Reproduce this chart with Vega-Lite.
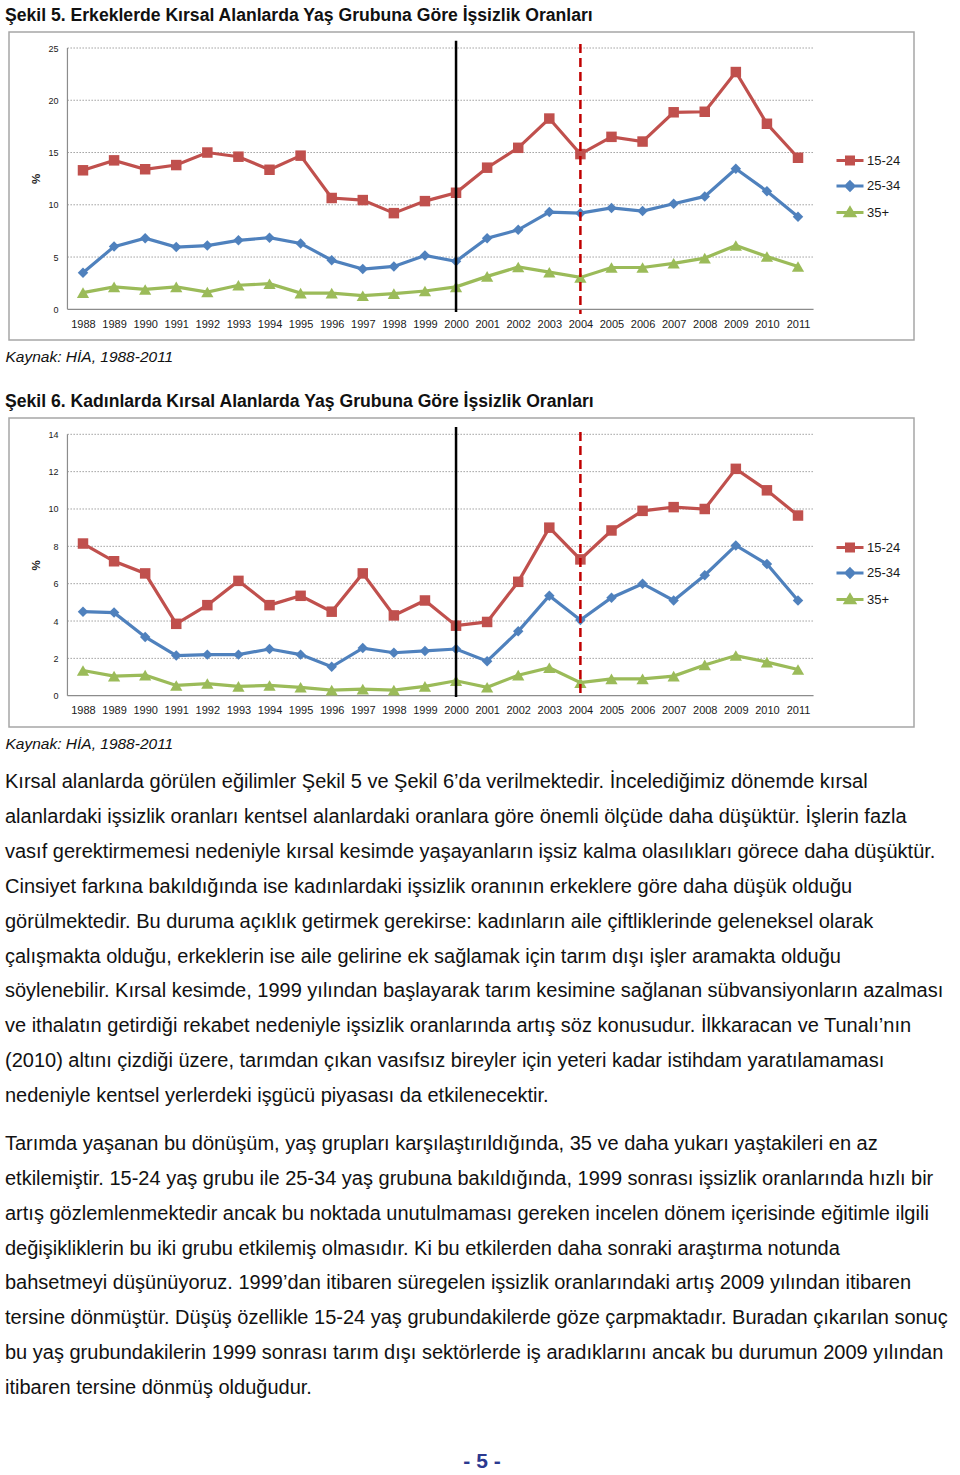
{
  "$schema": "https://vega.github.io/schema/vega-lite/v6.json",
  "background": "white",
  "padding": {"left": 4, "top": 5, "right": 0, "bottom": 0},
  "config": {
    "font": "Liberation Sans",
    "view": {"stroke": "#a6a6a6", "strokeWidth": 1.5},
    "axis": {"labelFont": "Liberation Sans", "titleFont": "Liberation Sans", "labelOverlap": false, "labelFlush": false, "labelBound": false},
    "legend": {"labelFont": "Liberation Sans"},
    "title": {"font": "Liberation Sans"}
  },
  "datasets": {
    "fig5": [
      {"year":1988,"group":"15-24","v":13.3},{"year":1989,"group":"15-24","v":14.25},{"year":1990,"group":"15-24","v":13.4},{"year":1991,"group":"15-24","v":13.8},{"year":1992,"group":"15-24","v":15.0},{"year":1993,"group":"15-24","v":14.6},{"year":1994,"group":"15-24","v":13.35},{"year":1995,"group":"15-24","v":14.7},{"year":1996,"group":"15-24","v":10.65},{"year":1997,"group":"15-24","v":10.45},{"year":1998,"group":"15-24","v":9.2},{"year":1999,"group":"15-24","v":10.35},{"year":2000,"group":"15-24","v":11.15},{"year":2001,"group":"15-24","v":13.55},{"year":2002,"group":"15-24","v":15.45},{"year":2003,"group":"15-24","v":18.25},{"year":2004,"group":"15-24","v":14.85},{"year":2005,"group":"15-24","v":16.5},{"year":2006,"group":"15-24","v":16.05},{"year":2007,"group":"15-24","v":18.85},{"year":2008,"group":"15-24","v":18.9},{"year":2009,"group":"15-24","v":22.7},{"year":2010,"group":"15-24","v":17.75},{"year":2011,"group":"15-24","v":14.5},
      {"year":1988,"group":"25-34","v":3.5},{"year":1989,"group":"25-34","v":6.0},{"year":1990,"group":"25-34","v":6.8},{"year":1991,"group":"25-34","v":5.95},{"year":1992,"group":"25-34","v":6.1},{"year":1993,"group":"25-34","v":6.6},{"year":1994,"group":"25-34","v":6.85},{"year":1995,"group":"25-34","v":6.3},{"year":1996,"group":"25-34","v":4.7},{"year":1997,"group":"25-34","v":3.85},{"year":1998,"group":"25-34","v":4.1},{"year":1999,"group":"25-34","v":5.15},{"year":2000,"group":"25-34","v":4.6},{"year":2001,"group":"25-34","v":6.8},{"year":2002,"group":"25-34","v":7.6},{"year":2003,"group":"25-34","v":9.3},{"year":2004,"group":"25-34","v":9.2},{"year":2005,"group":"25-34","v":9.7},{"year":2006,"group":"25-34","v":9.4},{"year":2007,"group":"25-34","v":10.1},{"year":2008,"group":"25-34","v":10.8},{"year":2009,"group":"25-34","v":13.45},{"year":2010,"group":"25-34","v":11.3},{"year":2011,"group":"25-34","v":8.85},
      {"year":1988,"group":"35+","v":1.6},{"year":1989,"group":"35+","v":2.15},{"year":1990,"group":"35+","v":1.9},{"year":1991,"group":"35+","v":2.15},{"year":1992,"group":"35+","v":1.65},{"year":1993,"group":"35+","v":2.3},{"year":1994,"group":"35+","v":2.45},{"year":1995,"group":"35+","v":1.55},{"year":1996,"group":"35+","v":1.55},{"year":1997,"group":"35+","v":1.3},{"year":1998,"group":"35+","v":1.5},{"year":1999,"group":"35+","v":1.75},{"year":2000,"group":"35+","v":2.15},{"year":2001,"group":"35+","v":3.15},{"year":2002,"group":"35+","v":4.05},{"year":2003,"group":"35+","v":3.55},{"year":2004,"group":"35+","v":3.05},{"year":2005,"group":"35+","v":4.0},{"year":2006,"group":"35+","v":4.0},{"year":2007,"group":"35+","v":4.4},{"year":2008,"group":"35+","v":4.9},{"year":2009,"group":"35+","v":6.1},{"year":2010,"group":"35+","v":5.05},{"year":2011,"group":"35+","v":4.1}
    ],
    "fig6": [
      {"year":1988,"group":"15-24","v":8.15},{"year":1989,"group":"15-24","v":7.2},{"year":1990,"group":"15-24","v":6.55},{"year":1991,"group":"15-24","v":3.85},{"year":1992,"group":"15-24","v":4.85},{"year":1993,"group":"15-24","v":6.15},{"year":1994,"group":"15-24","v":4.85},{"year":1995,"group":"15-24","v":5.35},{"year":1996,"group":"15-24","v":4.5},{"year":1997,"group":"15-24","v":6.55},{"year":1998,"group":"15-24","v":4.3},{"year":1999,"group":"15-24","v":5.1},{"year":2000,"group":"15-24","v":3.75},{"year":2001,"group":"15-24","v":3.95},{"year":2002,"group":"15-24","v":6.1},{"year":2003,"group":"15-24","v":9.0},{"year":2004,"group":"15-24","v":7.3},{"year":2005,"group":"15-24","v":8.85},{"year":2006,"group":"15-24","v":9.9},{"year":2007,"group":"15-24","v":10.1},{"year":2008,"group":"15-24","v":10.0},{"year":2009,"group":"15-24","v":12.15},{"year":2010,"group":"15-24","v":11.0},{"year":2011,"group":"15-24","v":9.65},
      {"year":1988,"group":"25-34","v":4.5},{"year":1989,"group":"25-34","v":4.45},{"year":1990,"group":"25-34","v":3.15},{"year":1991,"group":"25-34","v":2.15},{"year":1992,"group":"25-34","v":2.2},{"year":1993,"group":"25-34","v":2.2},{"year":1994,"group":"25-34","v":2.5},{"year":1995,"group":"25-34","v":2.2},{"year":1996,"group":"25-34","v":1.55},{"year":1997,"group":"25-34","v":2.55},{"year":1998,"group":"25-34","v":2.3},{"year":1999,"group":"25-34","v":2.4},{"year":2000,"group":"25-34","v":2.5},{"year":2001,"group":"25-34","v":1.85},{"year":2002,"group":"25-34","v":3.45},{"year":2003,"group":"25-34","v":5.35},{"year":2004,"group":"25-34","v":4.05},{"year":2005,"group":"25-34","v":5.25},{"year":2006,"group":"25-34","v":6.0},{"year":2007,"group":"25-34","v":5.1},{"year":2008,"group":"25-34","v":6.45},{"year":2009,"group":"25-34","v":8.05},{"year":2010,"group":"25-34","v":7.05},{"year":2011,"group":"25-34","v":5.1},
      {"year":1988,"group":"35+","v":1.35},{"year":1989,"group":"35+","v":1.05},{"year":1990,"group":"35+","v":1.1},{"year":1991,"group":"35+","v":0.55},{"year":1992,"group":"35+","v":0.65},{"year":1993,"group":"35+","v":0.5},{"year":1994,"group":"35+","v":0.55},{"year":1995,"group":"35+","v":0.45},{"year":1996,"group":"35+","v":0.3},{"year":1997,"group":"35+","v":0.35},{"year":1998,"group":"35+","v":0.3},{"year":1999,"group":"35+","v":0.5},{"year":2000,"group":"35+","v":0.8},{"year":2001,"group":"35+","v":0.45},{"year":2002,"group":"35+","v":1.1},{"year":2003,"group":"35+","v":1.5},{"year":2004,"group":"35+","v":0.7},{"year":2005,"group":"35+","v":0.9},{"year":2006,"group":"35+","v":0.9},{"year":2007,"group":"35+","v":1.05},{"year":2008,"group":"35+","v":1.65},{"year":2009,"group":"35+","v":2.15},{"year":2010,"group":"35+","v":1.8},{"year":2011,"group":"35+","v":1.4}
    ],
    "p1": [
      {"line": 1, "text": "Kırsal alanlarda görülen eğilimler Şekil 5 ve Şekil 6’da verilmektedir. İncelediğimiz dönemde kırsal"},
      {"line": 2, "text": "alanlardaki işsizlik oranları kentsel alanlardaki oranlara göre önemli ölçüde daha düşüktür. İşlerin fazla"},
      {"line": 3, "text": "vasıf gerektirmemesi nedeniyle kırsal kesimde yaşayanların işsiz kalma olasılıkları görece daha düşüktür."},
      {"line": 4, "text": "Cinsiyet farkına bakıldığında ise kadınlardaki işsizlik oranının erkeklere göre daha düşük olduğu"},
      {"line": 5, "text": "görülmektedir. Bu duruma açıklık getirmek gerekirse: kadınların aile çiftliklerinde geleneksel olarak"},
      {"line": 6, "text": "çalışmakta olduğu, erkeklerin ise aile gelirine ek sağlamak için tarım dışı işler aramakta olduğu"},
      {"line": 7, "text": "söylenebilir. Kırsal kesimde, 1999 yılından başlayarak tarım kesimine sağlanan sübvansiyonların azalması"},
      {"line": 8, "text": "ve ithalatın getirdiği rekabet nedeniyle işsizlik oranlarında artış söz konusudur. İlkkaracan ve Tunalı’nın"},
      {"line": 9, "text": "(2010) altını çizdiği üzere, tarımdan çıkan vasıfsız bireyler için yeteri kadar istihdam yaratılamaması"},
      {"line": 10, "text": "nedeniyle kentsel yerlerdeki işgücü piyasası da etkilenecektir."}
    ],
    "p2": [
      {"line": 1, "text": "Tarımda yaşanan bu dönüşüm, yaş grupları karşılaştırıldığında, 35 ve daha yukarı yaştakileri en az"},
      {"line": 2, "text": "etkilemiştir. 15-24 yaş grubu ile 25-34 yaş grubuna bakıldığında, 1999 sonrası işsizlik oranlarında hızlı bir"},
      {"line": 3, "text": "artış gözlemlenmektedir ancak bu noktada unutulmaması gereken incelen dönem içerisinde eğitimle ilgili"},
      {"line": 4, "text": "değişikliklerin bu iki grubu etkilemiş olmasıdır. Ki bu etkilerden daha sonraki araştırma notunda"},
      {"line": 5, "text": "bahsetmeyi düşünüyoruz. 1999’dan itibaren süregelen işsizlik oranlarındaki artış 2009 yılından itibaren"},
      {"line": 6, "text": "tersine dönmüştür. Düşüş özellikle 15-24 yaş grubundakilerde göze çarpmaktadır. Buradan çıkarılan sonuç"},
      {"line": 7, "text": "bu yaş grubundakilerin 1999 sonrası tarım dışı sektörlerde iş aradıklarını ancak bu durumun 2009 yılından"},
      {"line": 8, "text": "itibaren tersine dönmüş olduğudur."}
    ]
  },
  "bounds": "flush",
  "spacing": 78,
  "resolve": {"scale": {"color": "independent", "shape": "independent"}, "legend": {"color": "independent", "shape": "independent"}},
  "vconcat": [
    {
      "width": 905,
      "height": 308,
      "title": {"text": "Şekil 5. Erkeklerde Kırsal Alanlarda Yaş Grubuna Göre İşsizlik Oranları", "anchor": "start", "frame": "group", "offset": -6.1, "baseline": "alphabetic", "dx": -4, "fontSize": 17.6, "fontWeight": "bold", "color": "#111111"},
      "data": {"name": "fig5"},
      "layer": [
        {"data": {"values": [{"g": 5}, {"g": 10}, {"g": 15}, {"g": 20}, {"g": 25}]}, "mark": {"type": "rule", "stroke": "#a0a0a0", "strokeWidth": 1, "strokeDash": [1.5, 1.5]},
          "encoding": {
            "x": {"datum": 1987.5, "type": "quantitative", "scale": {"domain": [1985.62, 2014.731], "nice": false, "zero": false}, "axis": {"orient": "bottom", "offset": -30.7, "values": [1988,1989,1990,1991,1992,1993,1994,1995,1996,1997,1998,1999,2000,2001,2002,2003,2004,2005,2006,2007,2008,2009,2010,2011], "format": "d", "domain": false, "ticks": false, "grid": false, "labelFontSize": 11, "labelColor": "#1a1a1a", "labelPadding": 9, "labelAngle": 0, "labelOverlap": false, "labelFlush": false, "labelBound": false, "title": "Kaynak: HİA, 1988-2011", "titleFontSize": 15.5, "titleFontStyle": "italic", "titleFontWeight": "normal", "titleColor": "#111111", "titleX": -4, "titleY": 52.2, "titleAlign": "left", "titleBaseline": "alphabetic", "titleAnchor": "start"}},
            "x2": {"datum": 2011.5},
            "y": {"field": "g", "type": "quantitative", "scale": {"domain": [-2.937, 26.531], "nice": false, "zero": false}, "axis": {"orient": "left", "offset": -58, "values": [0,5,10,15,20,25], "domain": false, "ticks": false, "grid": false, "labelFontSize": 9, "labelPadding": 9, "labelColor": "#1a1a1a", "labelFlush": false, "labelOverlap": false, "title": "%", "titleFontSize": 11.5, "titleFontWeight": "bold", "titleColor": "#222222", "titleAngle": 270, "titleX": -31, "titleY": 146.5, "titleAlign": "center", "titleBaseline": "middle"}}
          }},
        {"data": {"values": [{"axis": "y"}]}, "mark": {"type": "rule", "stroke": "#8c8c8c", "strokeWidth": 1.2},
          "encoding": {
            "x": {"datum": 1987.5, "type": "quantitative", "scale": {"domain": [1985.62, 2014.731], "nice": false, "zero": false}, "axis": {"orient": "bottom", "offset": -30.7, "values": [1988,1989,1990,1991,1992,1993,1994,1995,1996,1997,1998,1999,2000,2001,2002,2003,2004,2005,2006,2007,2008,2009,2010,2011], "format": "d", "domain": false, "ticks": false, "grid": false, "labelFontSize": 11, "labelColor": "#1a1a1a", "labelPadding": 9, "labelAngle": 0, "labelOverlap": false, "labelFlush": false, "labelBound": false, "title": "Kaynak: HİA, 1988-2011", "titleFontSize": 15.5, "titleFontStyle": "italic", "titleFontWeight": "normal", "titleColor": "#111111", "titleX": -4, "titleY": 52.2, "titleAlign": "left", "titleBaseline": "alphabetic", "titleAnchor": "start"}},
            "y": {"datum": 0, "type": "quantitative", "scale": {"domain": [-2.937, 26.531], "nice": false, "zero": false}, "axis": {"orient": "left", "offset": -58, "values": [0,5,10,15,20,25], "domain": false, "ticks": false, "grid": false, "labelFontSize": 9, "labelPadding": 9, "labelColor": "#1a1a1a", "labelFlush": false, "labelOverlap": false, "title": "%", "titleFontSize": 11.5, "titleFontWeight": "bold", "titleColor": "#222222", "titleAngle": 270, "titleX": -31, "titleY": 146.5, "titleAlign": "center", "titleBaseline": "middle"}},
            "y2": {"datum": 25}
          }},
        {"data": {"values": [{"axis": "x"}]}, "mark": {"type": "rule", "stroke": "#8c8c8c", "strokeWidth": 1.2},
          "encoding": {
            "x": {"datum": 1987.5, "type": "quantitative", "scale": {"domain": [1985.62, 2014.731], "nice": false, "zero": false}, "axis": {"orient": "bottom", "offset": -30.7, "values": [1988,1989,1990,1991,1992,1993,1994,1995,1996,1997,1998,1999,2000,2001,2002,2003,2004,2005,2006,2007,2008,2009,2010,2011], "format": "d", "domain": false, "ticks": false, "grid": false, "labelFontSize": 11, "labelColor": "#1a1a1a", "labelPadding": 9, "labelAngle": 0, "labelOverlap": false, "labelFlush": false, "labelBound": false, "title": "Kaynak: HİA, 1988-2011", "titleFontSize": 15.5, "titleFontStyle": "italic", "titleFontWeight": "normal", "titleColor": "#111111", "titleX": -4, "titleY": 52.2, "titleAlign": "left", "titleBaseline": "alphabetic", "titleAnchor": "start"}},
            "x2": {"datum": 2011.5},
            "y": {"datum": 0, "type": "quantitative", "scale": {"domain": [-2.937, 26.531], "nice": false, "zero": false}, "axis": {"orient": "left", "offset": -58, "values": [0,5,10,15,20,25], "domain": false, "ticks": false, "grid": false, "labelFontSize": 9, "labelPadding": 9, "labelColor": "#1a1a1a", "labelFlush": false, "labelOverlap": false, "title": "%", "titleFontSize": 11.5, "titleFontWeight": "bold", "titleColor": "#222222", "titleAngle": 270, "titleX": -31, "titleY": 146.5, "titleAlign": "center", "titleBaseline": "middle"}}
          }},
        {
          "encoding": {
            "x": {"field": "year", "type": "quantitative", "scale": {"domain": [1985.62, 2014.731], "nice": false, "zero": false}, "axis": {"orient": "bottom", "offset": -30.7, "values": [1988,1989,1990,1991,1992,1993,1994,1995,1996,1997,1998,1999,2000,2001,2002,2003,2004,2005,2006,2007,2008,2009,2010,2011], "format": "d", "domain": false, "ticks": false, "grid": false, "labelFontSize": 11, "labelColor": "#1a1a1a", "labelPadding": 9, "labelAngle": 0, "labelOverlap": false, "labelFlush": false, "labelBound": false, "title": "Kaynak: HİA, 1988-2011", "titleFontSize": 15.5, "titleFontStyle": "italic", "titleFontWeight": "normal", "titleColor": "#111111", "titleX": -4, "titleY": 52.2, "titleAlign": "left", "titleBaseline": "alphabetic", "titleAnchor": "start"}},
            "y": {"field": "v", "type": "quantitative", "scale": {"domain": [-2.937, 26.531], "nice": false, "zero": false}, "axis": {"orient": "left", "offset": -58, "values": [0,5,10,15,20,25], "domain": false, "ticks": false, "grid": false, "labelFontSize": 9, "labelPadding": 9, "labelColor": "#1a1a1a", "labelFlush": false, "labelOverlap": false, "title": "%", "titleFontSize": 11.5, "titleFontWeight": "bold", "titleColor": "#222222", "titleAngle": 270, "titleX": -31, "titleY": 146.5, "titleAlign": "center", "titleBaseline": "middle"}}
          },
          "layer": [
            {"transform": [{"filter": "datum.group === '15-24'"}], "mark": {"type": "line", "strokeWidth": 3.2, "color": "#c0504d"}},
            {"transform": [{"filter": "datum.group === '25-34'"}], "mark": {"type": "line", "strokeWidth": 3.2, "color": "#4f81bd"}},
            {"transform": [{"filter": "datum.group === '35+'"}], "mark": {"type": "line", "strokeWidth": 3.2, "color": "#9bbb59"}},
            {"transform": [{"filter": "datum.group === '15-24'"}], "mark": {"type": "point", "shape": "square", "filled": true, "size": 110, "color": "#c0504d", "opacity": 1}},
            {"transform": [{"filter": "datum.group === '25-34'"}], "mark": {"type": "point", "shape": "diamond", "filled": true, "size": 110, "color": "#4f81bd", "opacity": 1}},
            {"transform": [{"filter": "datum.group === '35+'"}], "mark": {"type": "point", "shape": "triangle-up", "filled": true, "size": 150, "color": "#9bbb59", "opacity": 1}},
            {"transform": [{"filter": "false"}], "mark": {"type": "point", "filled": false, "strokeWidth": 3, "opacity": 1},
              "encoding": {
                "color": {"field": "group", "type": "nominal", "scale": {"domain": ["15-24", "25-34", "35+"], "range": ["#c0504d", "#4f81bd", "#9bbb59"]},
                  "legend": {"orient": "none", "legendX": 826, "legendY": 113.5, "title": null, "padding": 0, "rowPadding": 0.5, "labelOffset": 2, "labelFontSize": 13, "labelColor": "#1a1a1a", "symbolSize": 729, "symbolStrokeWidth": 3, "symbolOpacity": 1}},
                "shape": {"field": "group", "type": "nominal", "scale": {"domain": ["15-24", "25-34", "35+"], "range": ["M-1,0H1M-0.26,-0.26H0.26V0.26H-0.26ZM-0.26,-0.12H0.26M-0.26,0.12H0.26", "M-1,0H1M0,-0.3L0.3,0L0,0.3L-0.3,0ZM0,-0.3V0.3M-0.15,0H0.15", "M-1,0H1M0,-0.32L0.34,0.24L-0.34,0.24ZM0,-0.32V0.24M-0.18,0.1H0.18"]},
                  "legend": {"orient": "none", "legendX": 826, "legendY": 113.5, "title": null, "padding": 0, "rowPadding": 0.5, "labelOffset": 2, "labelFontSize": 13, "labelColor": "#1a1a1a", "symbolSize": 729, "symbolStrokeWidth": 3, "symbolOpacity": 1}}
              }}
          ]
        },
        {"data": {"values": [{"year": 2000}]}, "mark": {"type": "rule", "stroke": "#000000", "strokeWidth": 2.5},
          "encoding": {
            "x": {"field": "year", "type": "quantitative", "scale": {"domain": [1985.62, 2014.731], "nice": false, "zero": false}, "axis": {"orient": "bottom", "offset": -30.7, "values": [1988,1989,1990,1991,1992,1993,1994,1995,1996,1997,1998,1999,2000,2001,2002,2003,2004,2005,2006,2007,2008,2009,2010,2011], "format": "d", "domain": false, "ticks": false, "grid": false, "labelFontSize": 11, "labelColor": "#1a1a1a", "labelPadding": 9, "labelAngle": 0, "labelOverlap": false, "labelFlush": false, "labelBound": false, "title": "Kaynak: HİA, 1988-2011", "titleFontSize": 15.5, "titleFontStyle": "italic", "titleFontWeight": "normal", "titleColor": "#111111", "titleX": -4, "titleY": 52.2, "titleAlign": "left", "titleBaseline": "alphabetic", "titleAnchor": "start"}},
            "y": {"datum": 25.7, "type": "quantitative", "scale": {"domain": [-2.937, 26.531], "nice": false, "zero": false}, "axis": {"orient": "left", "offset": -58, "values": [0,5,10,15,20,25], "domain": false, "ticks": false, "grid": false, "labelFontSize": 9, "labelPadding": 9, "labelColor": "#1a1a1a", "labelFlush": false, "labelOverlap": false, "title": "%", "titleFontSize": 11.5, "titleFontWeight": "bold", "titleColor": "#222222", "titleAngle": 270, "titleX": -31, "titleY": 146.5, "titleAlign": "center", "titleBaseline": "middle"}},
            "y2": {"datum": -0.26}
          }},
        {"data": {"values": [{"year": 2004}]}, "mark": {"type": "rule", "stroke": "#c00000", "strokeWidth": 2.5, "strokeDash": [9, 5]},
          "encoding": {
            "x": {"field": "year", "type": "quantitative", "scale": {"domain": [1985.62, 2014.731], "nice": false, "zero": false}, "axis": {"orient": "bottom", "offset": -30.7, "values": [1988,1989,1990,1991,1992,1993,1994,1995,1996,1997,1998,1999,2000,2001,2002,2003,2004,2005,2006,2007,2008,2009,2010,2011], "format": "d", "domain": false, "ticks": false, "grid": false, "labelFontSize": 11, "labelColor": "#1a1a1a", "labelPadding": 9, "labelAngle": 0, "labelOverlap": false, "labelFlush": false, "labelBound": false, "title": "Kaynak: HİA, 1988-2011", "titleFontSize": 15.5, "titleFontStyle": "italic", "titleFontWeight": "normal", "titleColor": "#111111", "titleX": -4, "titleY": 52.2, "titleAlign": "left", "titleBaseline": "alphabetic", "titleAnchor": "start"}},
            "y": {"datum": 25.38, "type": "quantitative", "scale": {"domain": [-2.937, 26.531], "nice": false, "zero": false}, "axis": {"orient": "left", "offset": -58, "values": [0,5,10,15,20,25], "domain": false, "ticks": false, "grid": false, "labelFontSize": 9, "labelPadding": 9, "labelColor": "#1a1a1a", "labelFlush": false, "labelOverlap": false, "title": "%", "titleFontSize": 11.5, "titleFontWeight": "bold", "titleColor": "#222222", "titleAngle": 270, "titleX": -31, "titleY": 146.5, "titleAlign": "center", "titleBaseline": "middle"}},
            "y2": {"datum": -0.45}
          }}
      ]
    },
    {
      "width": 905,
      "height": 309,
      "title": {"text": "Şekil 6. Kadınlarda Kırsal Alanlarda Yaş Grubuna Göre İşsizlik Oranları", "anchor": "start", "frame": "group", "offset": -6.1, "baseline": "alphabetic", "dx": -4, "fontSize": 17.6, "fontWeight": "bold", "color": "#111111"},
      "data": {"name": "fig6"},
      "layer": [
        {"data": {"values": [{"g": 2}, {"g": 4}, {"g": 6}, {"g": 8}, {"g": 10}, {"g": 12}, {"g": 14}]}, "mark": {"type": "rule", "stroke": "#a0a0a0", "strokeWidth": 1, "strokeDash": [1.5, 1.5]},
          "encoding": {
            "x": {"datum": 1987.5, "type": "quantitative", "scale": {"domain": [1985.62, 2014.731], "nice": false, "zero": false}, "axis": {"orient": "bottom", "offset": -31.3, "values": [1988,1989,1990,1991,1992,1993,1994,1995,1996,1997,1998,1999,2000,2001,2002,2003,2004,2005,2006,2007,2008,2009,2010,2011], "format": "d", "domain": false, "ticks": false, "grid": false, "labelFontSize": 11, "labelColor": "#1a1a1a", "labelPadding": 9, "labelAngle": 0, "labelOverlap": false, "labelFlush": false, "labelBound": false, "title": "Kaynak: HİA, 1988-2011", "titleFontSize": 15.5, "titleFontStyle": "italic", "titleFontWeight": "normal", "titleColor": "#111111", "titleX": -4, "titleY": 52.3, "titleAlign": "left", "titleBaseline": "alphabetic", "titleAnchor": "start"}},
            "x2": {"datum": 2011.5},
            "y": {"field": "g", "type": "quantitative", "scale": {"domain": [-1.676, 14.873], "nice": false, "zero": false}, "axis": {"orient": "left", "offset": -58, "values": [0,2,4,6,8,10,12,14], "domain": false, "ticks": false, "grid": false, "labelFontSize": 9, "labelPadding": 9, "labelColor": "#1a1a1a", "labelFlush": false, "labelOverlap": false, "title": "%", "titleFontSize": 11.5, "titleFontWeight": "bold", "titleColor": "#222222", "titleAngle": 270, "titleX": -31, "titleY": 147, "titleAlign": "center", "titleBaseline": "middle"}}
          }},
        {"data": {"values": [{"axis": "y"}]}, "mark": {"type": "rule", "stroke": "#8c8c8c", "strokeWidth": 1.2},
          "encoding": {
            "x": {"datum": 1987.5, "type": "quantitative", "scale": {"domain": [1985.62, 2014.731], "nice": false, "zero": false}, "axis": {"orient": "bottom", "offset": -31.3, "values": [1988,1989,1990,1991,1992,1993,1994,1995,1996,1997,1998,1999,2000,2001,2002,2003,2004,2005,2006,2007,2008,2009,2010,2011], "format": "d", "domain": false, "ticks": false, "grid": false, "labelFontSize": 11, "labelColor": "#1a1a1a", "labelPadding": 9, "labelAngle": 0, "labelOverlap": false, "labelFlush": false, "labelBound": false, "title": "Kaynak: HİA, 1988-2011", "titleFontSize": 15.5, "titleFontStyle": "italic", "titleFontWeight": "normal", "titleColor": "#111111", "titleX": -4, "titleY": 52.3, "titleAlign": "left", "titleBaseline": "alphabetic", "titleAnchor": "start"}},
            "y": {"datum": 0, "type": "quantitative", "scale": {"domain": [-1.676, 14.873], "nice": false, "zero": false}, "axis": {"orient": "left", "offset": -58, "values": [0,2,4,6,8,10,12,14], "domain": false, "ticks": false, "grid": false, "labelFontSize": 9, "labelPadding": 9, "labelColor": "#1a1a1a", "labelFlush": false, "labelOverlap": false, "title": "%", "titleFontSize": 11.5, "titleFontWeight": "bold", "titleColor": "#222222", "titleAngle": 270, "titleX": -31, "titleY": 147, "titleAlign": "center", "titleBaseline": "middle"}},
            "y2": {"datum": 14}
          }},
        {"data": {"values": [{"axis": "x"}]}, "mark": {"type": "rule", "stroke": "#8c8c8c", "strokeWidth": 1.2},
          "encoding": {
            "x": {"datum": 1987.5, "type": "quantitative", "scale": {"domain": [1985.62, 2014.731], "nice": false, "zero": false}, "axis": {"orient": "bottom", "offset": -31.3, "values": [1988,1989,1990,1991,1992,1993,1994,1995,1996,1997,1998,1999,2000,2001,2002,2003,2004,2005,2006,2007,2008,2009,2010,2011], "format": "d", "domain": false, "ticks": false, "grid": false, "labelFontSize": 11, "labelColor": "#1a1a1a", "labelPadding": 9, "labelAngle": 0, "labelOverlap": false, "labelFlush": false, "labelBound": false, "title": "Kaynak: HİA, 1988-2011", "titleFontSize": 15.5, "titleFontStyle": "italic", "titleFontWeight": "normal", "titleColor": "#111111", "titleX": -4, "titleY": 52.3, "titleAlign": "left", "titleBaseline": "alphabetic", "titleAnchor": "start"}},
            "x2": {"datum": 2011.5},
            "y": {"datum": 0, "type": "quantitative", "scale": {"domain": [-1.676, 14.873], "nice": false, "zero": false}, "axis": {"orient": "left", "offset": -58, "values": [0,2,4,6,8,10,12,14], "domain": false, "ticks": false, "grid": false, "labelFontSize": 9, "labelPadding": 9, "labelColor": "#1a1a1a", "labelFlush": false, "labelOverlap": false, "title": "%", "titleFontSize": 11.5, "titleFontWeight": "bold", "titleColor": "#222222", "titleAngle": 270, "titleX": -31, "titleY": 147, "titleAlign": "center", "titleBaseline": "middle"}}
          }},
        {
          "encoding": {
            "x": {"field": "year", "type": "quantitative", "scale": {"domain": [1985.62, 2014.731], "nice": false, "zero": false}, "axis": {"orient": "bottom", "offset": -31.3, "values": [1988,1989,1990,1991,1992,1993,1994,1995,1996,1997,1998,1999,2000,2001,2002,2003,2004,2005,2006,2007,2008,2009,2010,2011], "format": "d", "domain": false, "ticks": false, "grid": false, "labelFontSize": 11, "labelColor": "#1a1a1a", "labelPadding": 9, "labelAngle": 0, "labelOverlap": false, "labelFlush": false, "labelBound": false, "title": "Kaynak: HİA, 1988-2011", "titleFontSize": 15.5, "titleFontStyle": "italic", "titleFontWeight": "normal", "titleColor": "#111111", "titleX": -4, "titleY": 52.3, "titleAlign": "left", "titleBaseline": "alphabetic", "titleAnchor": "start"}},
            "y": {"field": "v", "type": "quantitative", "scale": {"domain": [-1.676, 14.873], "nice": false, "zero": false}, "axis": {"orient": "left", "offset": -58, "values": [0,2,4,6,8,10,12,14], "domain": false, "ticks": false, "grid": false, "labelFontSize": 9, "labelPadding": 9, "labelColor": "#1a1a1a", "labelFlush": false, "labelOverlap": false, "title": "%", "titleFontSize": 11.5, "titleFontWeight": "bold", "titleColor": "#222222", "titleAngle": 270, "titleX": -31, "titleY": 147, "titleAlign": "center", "titleBaseline": "middle"}}
          },
          "layer": [
            {"transform": [{"filter": "datum.group === '15-24'"}], "mark": {"type": "line", "strokeWidth": 3.2, "color": "#c0504d"}},
            {"transform": [{"filter": "datum.group === '25-34'"}], "mark": {"type": "line", "strokeWidth": 3.2, "color": "#4f81bd"}},
            {"transform": [{"filter": "datum.group === '35+'"}], "mark": {"type": "line", "strokeWidth": 3.2, "color": "#9bbb59"}},
            {"transform": [{"filter": "datum.group === '15-24'"}], "mark": {"type": "point", "shape": "square", "filled": true, "size": 110, "color": "#c0504d", "opacity": 1}},
            {"transform": [{"filter": "datum.group === '25-34'"}], "mark": {"type": "point", "shape": "diamond", "filled": true, "size": 110, "color": "#4f81bd", "opacity": 1}},
            {"transform": [{"filter": "datum.group === '35+'"}], "mark": {"type": "point", "shape": "triangle-up", "filled": true, "size": 150, "color": "#9bbb59", "opacity": 1}},
            {"transform": [{"filter": "false"}], "mark": {"type": "point", "filled": false, "strokeWidth": 3, "opacity": 1},
              "encoding": {
                "color": {"field": "group", "type": "nominal", "scale": {"domain": ["15-24", "25-34", "35+"], "range": ["#c0504d", "#4f81bd", "#9bbb59"]},
                  "legend": {"orient": "none", "legendX": 826, "legendY": 114.5, "title": null, "padding": 0, "rowPadding": 0.5, "labelOffset": 2, "labelFontSize": 13, "labelColor": "#1a1a1a", "symbolSize": 729, "symbolStrokeWidth": 3, "symbolOpacity": 1}},
                "shape": {"field": "group", "type": "nominal", "scale": {"domain": ["15-24", "25-34", "35+"], "range": ["M-1,0H1M-0.26,-0.26H0.26V0.26H-0.26ZM-0.26,-0.12H0.26M-0.26,0.12H0.26", "M-1,0H1M0,-0.3L0.3,0L0,0.3L-0.3,0ZM0,-0.3V0.3M-0.15,0H0.15", "M-1,0H1M0,-0.32L0.34,0.24L-0.34,0.24ZM0,-0.32V0.24M-0.18,0.1H0.18"]},
                  "legend": {"orient": "none", "legendX": 826, "legendY": 114.5, "title": null, "padding": 0, "rowPadding": 0.5, "labelOffset": 2, "labelFontSize": 13, "labelColor": "#1a1a1a", "symbolSize": 729, "symbolStrokeWidth": 3, "symbolOpacity": 1}}
              }}
          ]
        },
        {"data": {"values": [{"year": 2000}]}, "mark": {"type": "rule", "stroke": "#000000", "strokeWidth": 2.5},
          "encoding": {
            "x": {"field": "year", "type": "quantitative", "scale": {"domain": [1985.62, 2014.731], "nice": false, "zero": false}, "axis": {"orient": "bottom", "offset": -31.3, "values": [1988,1989,1990,1991,1992,1993,1994,1995,1996,1997,1998,1999,2000,2001,2002,2003,2004,2005,2006,2007,2008,2009,2010,2011], "format": "d", "domain": false, "ticks": false, "grid": false, "labelFontSize": 11, "labelColor": "#1a1a1a", "labelPadding": 9, "labelAngle": 0, "labelOverlap": false, "labelFlush": false, "labelBound": false, "title": "Kaynak: HİA, 1988-2011", "titleFontSize": 15.5, "titleFontStyle": "italic", "titleFontWeight": "normal", "titleColor": "#111111", "titleX": -4, "titleY": 52.3, "titleAlign": "left", "titleBaseline": "alphabetic", "titleAnchor": "start"}},
            "y": {"datum": 14.39, "type": "quantitative", "scale": {"domain": [-1.676, 14.873], "nice": false, "zero": false}, "axis": {"orient": "left", "offset": -58, "values": [0,2,4,6,8,10,12,14], "domain": false, "ticks": false, "grid": false, "labelFontSize": 9, "labelPadding": 9, "labelColor": "#1a1a1a", "labelFlush": false, "labelOverlap": false, "title": "%", "titleFontSize": 11.5, "titleFontWeight": "bold", "titleColor": "#222222", "titleAngle": 270, "titleX": -31, "titleY": 147, "titleAlign": "center", "titleBaseline": "middle"}},
            "y2": {"datum": -0.07}
          }},
        {"data": {"values": [{"year": 2004}]}, "mark": {"type": "rule", "stroke": "#c00000", "strokeWidth": 2.5, "strokeDash": [9, 5]},
          "encoding": {
            "x": {"field": "year", "type": "quantitative", "scale": {"domain": [1985.62, 2014.731], "nice": false, "zero": false}, "axis": {"orient": "bottom", "offset": -31.3, "values": [1988,1989,1990,1991,1992,1993,1994,1995,1996,1997,1998,1999,2000,2001,2002,2003,2004,2005,2006,2007,2008,2009,2010,2011], "format": "d", "domain": false, "ticks": false, "grid": false, "labelFontSize": 11, "labelColor": "#1a1a1a", "labelPadding": 9, "labelAngle": 0, "labelOverlap": false, "labelFlush": false, "labelBound": false, "title": "Kaynak: HİA, 1988-2011", "titleFontSize": 15.5, "titleFontStyle": "italic", "titleFontWeight": "normal", "titleColor": "#111111", "titleX": -4, "titleY": 52.3, "titleAlign": "left", "titleBaseline": "alphabetic", "titleAnchor": "start"}},
            "y": {"datum": 14.12, "type": "quantitative", "scale": {"domain": [-1.676, 14.873], "nice": false, "zero": false}, "axis": {"orient": "left", "offset": -58, "values": [0,2,4,6,8,10,12,14], "domain": false, "ticks": false, "grid": false, "labelFontSize": 9, "labelPadding": 9, "labelColor": "#1a1a1a", "labelFlush": false, "labelOverlap": false, "title": "%", "titleFontSize": 11.5, "titleFontWeight": "bold", "titleColor": "#222222", "titleAngle": 270, "titleX": -31, "titleY": 147, "titleAlign": "center", "titleBaseline": "middle"}},
            "y2": {"datum": -0.02}
          }}
      ]
    },
    {
      "width": 946,
      "height": 314.1,
      "view": {"stroke": null},
      "data": {"name": "p1"},
      "mark": {"type": "text", "align": "left", "baseline": "line-bottom", "lineHeight": 46, "fontSize": 20, "color": "#111111", "dx": -4},
      "encoding": {
        "x": {"value": 0},
        "y": {"field": "line", "type": "ordinal", "scale": {"type": "point", "padding": 0}, "axis": null},
        "text": {"field": "text"}
      }
    },
    {
      "width": 946,
      "height": 244,
      "view": {"stroke": null},
      "title": {"text": "- 5 -", "orient": "bottom", "anchor": "middle", "frame": "group", "baseline": "middle", "offset": 20, "fontSize": 21, "fontWeight": "bold", "color": "#2b3990"},
      "data": {"name": "p2"},
      "mark": {"type": "text", "align": "left", "baseline": "line-bottom", "lineHeight": 108.2, "fontSize": 20, "color": "#111111", "dx": -4},
      "encoding": {
        "x": {"value": 0},
        "y": {"field": "line", "type": "ordinal", "scale": {"type": "point", "padding": 0}, "axis": null},
        "text": {"field": "text"}
      }
    }
  ]
}
